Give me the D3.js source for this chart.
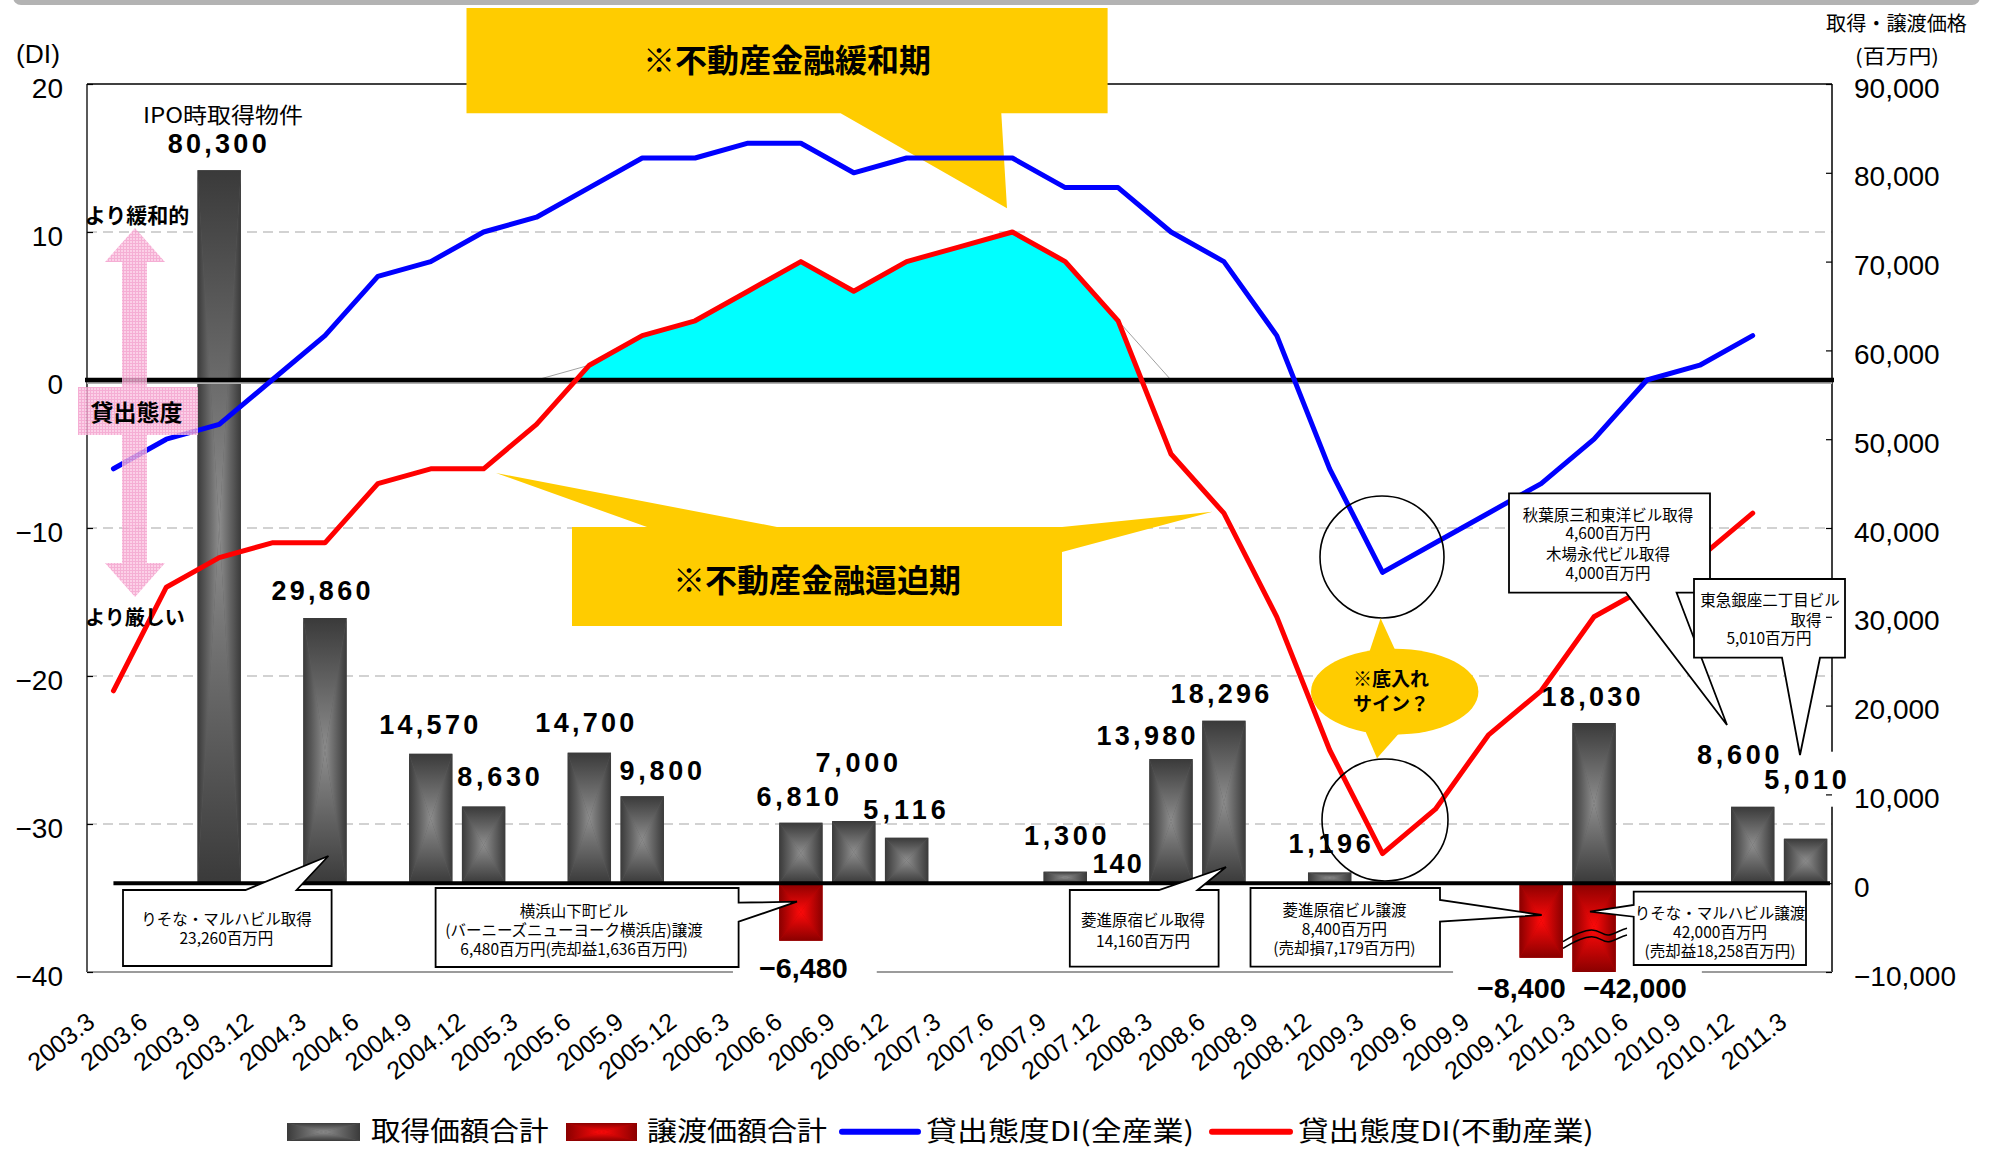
<!DOCTYPE html>
<html>
<head>
<meta charset="utf-8">
<script src="https://cdn.jsdelivr.net/npm/d3@7"></script>
<style>
  html, body { margin: 0; padding: 0; background: #fff; }
  svg { display: block; }
  text { font-family: "Liberation Sans", Arial, sans-serif; fill: #000; }
  .jp { font-family: "Noto Sans CJK JP", "Noto Sans", sans-serif; }
</style>
</head>
<body>
<svg id="chart" width="1991" height="1149"></svg>
<script>
// ---- data ----------------------------------------------------------------
const categories = [
  "2003.3","2003.6","2003.9","2003.12",
  "2004.3","2004.6","2004.9","2004.12",
  "2005.3","2005.6","2005.9","2005.12",
  "2006.3","2006.6","2006.9","2006.12",
  "2007.3","2007.6","2007.9","2007.12",
  "2008.3","2008.6","2008.9","2008.12",
  "2009.3","2009.6","2009.9","2009.12",
  "2010.3","2010.6","2010.9","2010.12",
  "2011.3"
];

// Lending attitude DI, all industries (2003.3 - 2010.12)
const diAllIndustry = [-6,-4,-3,0,3,7,8,10,11,13,15,15,16,16,14,15,15,15,13,13,10,8,3,-6,-13,-11,-9,-7,-4,0,1,3];
// Lending attitude DI, real estate (2003.3 - 2010.12)
const diRealEstate = [-21,-14,-12,-11,-11,-7,-6,-6,-3,1,3,4,6,8,6,8,9,10,8,4,-5,-9,-16,-25,-32,-29,-24,-21,-16,-14,-12,-9];

// Acquisition total per quarter (million yen)
const acquisitionTotal = [null,null,80300,null,29860,null,14570,8630,null,14700,9800,null,null,6810,7000,5116,
  null,null,1300,140,13980,18296,null,1196,null,null,null,null,18030,null,null,8600,5010];
// Disposition total per quarter (million yen)
const dispositionTotal = [null,null,null,null,null,null,null,null,null,null,null,null,null,-6480,null,null,
  null,null,null,null,null,null,null,null,null,null,null,-8400,-42000,null,null,null,null];

const diTicks = [-40,-30,-20,-10,0,10,20];
const amountTicks = [-10000,0,10000,20000,30000,40000,50000,60000,70000,80000,90000];
const legendLabels = ["取得価額合計","譲渡価額合計","貸出態度DI(全産業)","貸出態度DI(不動産業)"];

// ---- layout ---------------------------------------------------------------
const P = { left: 87, right: 1832, top: 84, bottom: 972 };

const svg = d3.select("#chart");
const defs = svg.append("defs");

const x = d3.scaleBand().domain(categories).range([P.left, P.right]).paddingInner(0).paddingOuter(0);
const cx = i => x(categories[i]) + x.bandwidth() / 2;
const yDI = d3.scaleLinear().domain([-40, 20]).range([P.bottom, P.top]);
const yAmt = d3.scaleLinear().domain([-10000, 90000]).range([P.bottom, P.top]);
const barW = x.bandwidth() * 0.82;
const fmt = d3.format(",");

// rectangular "from centre" gradients, one per triangle of a bar
const palettes = { gray: ["#3a3a3a", "#8d8d8d", "#5c5c5c"], red: ["#8a0000", "#ff0a0a", "#c00000"] };
Object.entries(palettes).forEach(([k, [dark, light]]) => {
  const specs = {
    top:    [0,0,0,1, dark, light],
    bottom: [0,0,0,1, light, dark],
    left:   [0,0,1,0, dark, light],
    right:  [0,0,1,0, light, dark]
  };
  Object.entries(specs).forEach(([side, [x1,y1,x2,y2,c0,c1]]) => {
    const g = defs.append("linearGradient").attr("id", `${k}-${side}`)
      .attr("x1", x1).attr("y1", y1).attr("x2", x2).attr("y2", y2);
    g.append("stop").attr("offset", 0).attr("stop-color", c0);
    g.append("stop").attr("offset", 1).attr("stop-color", c1);
  });
});

function gradientBox(g, x0, y0, w, h, kind) {
  const x1 = x0 + w, y1 = y0 + h, mx = x0 + w / 2, my = y0 + h / 2;
  g.append("rect").attr("x", x0).attr("y", y0).attr("width", w).attr("height", h)
    .attr("fill", palettes[kind][2]);
  if (h < 2) return;
  const tri = (pts, side) => g.append("path")
    .attr("d", "M" + pts.map(p => p.join(",")).join("L") + "Z")
    .attr("fill", `url(#${kind}-${side})`);
  tri([[x0,y0],[x1,y0],[mx,my]], "top");
  tri([[x0,y1],[x1,y1],[mx,my]], "bottom");
  tri([[x0,y0],[x0,y1],[mx,my]], "left");
  tri([[x1,y0],[x1,y1],[mx,my]], "right");
}

// pink hatched fill for the lending-attitude marker
const pat = defs.append("pattern").attr("id", "pinkHatch").attr("width", 3).attr("height", 3)
  .attr("patternUnits", "userSpaceOnUse");
pat.append("rect").attr("width", 3).attr("height", 3).attr("fill", "#fbc6e2");
pat.append("path").attr("d", "M0,0.5H3M0.5,0V3").attr("stroke", "#f39dcb").attr("stroke-width", 1);

// clip for the easing-period area (above DI = 0)
defs.append("clipPath").attr("id", "aboveZero").append("rect")
  .attr("x", P.left).attr("y", P.top).attr("width", P.right - P.left).attr("height", yDI(0) - P.top);

// multi-line centred text in a single element
function multiText(parent, lines, size, weight, dyBase) {
  const t = parent.append("text").attr("class", "jp").attr("text-anchor", "middle")
    .attr("font-size", size).attr("font-weight", weight || 400);
  lines.forEach(([s, lx, ly]) => t.append("tspan").attr("x", lx).attr("y", ly + dyBase).text(s));
  return t;
}

// ---- banner strip at the very top -----------------------------------------
svg.append("rect").attr("x", 13).attr("y", -20).attr("width", 1967).attr("height", 25)
  .attr("rx", 8).attr("fill", "#b3b3b3");

// ---- gridlines ------------------------------------------------------------
svg.append("g").selectAll("line")
  .data(diTicks.filter(v => v !== 0 && v !== 20 && v !== -40))
  .join("line")
  .attr("x1", P.left).attr("x2", P.right)
  .attr("y1", d => yDI(d)).attr("y2", d => yDI(d))
  .attr("stroke", "#c4c4c4").attr("stroke-width", 1.3).attr("stroke-dasharray", "10,6");

// ---- plot frame ------------------------------------------------------------
const frame = svg.append("g");
frame.append("line").attr("x1", P.left).attr("x2", P.right).attr("y1", P.top).attr("y2", P.top)
  .attr("stroke", "#000").attr("stroke-width", 1.5);
frame.append("line").attr("x1", P.left).attr("x2", P.left).attr("y1", P.top).attr("y2", P.bottom)
  .attr("stroke", "#000").attr("stroke-width", 1.3);
frame.append("line").attr("x1", P.right).attr("x2", P.right).attr("y1", P.top).attr("y2", P.bottom)
  .attr("stroke", "#000").attr("stroke-width", 1.5);
frame.append("line").attr("x1", P.left).attr("x2", P.right).attr("y1", P.bottom).attr("y2", P.bottom)
  .attr("stroke", "#7a7a7a").attr("stroke-width", 1.5);

// ---- easing-period area (real-estate DI above zero) -------------------------
const areaGen = d3.area().x((d, i) => cx(i)).y0(yDI(0)).y1(d => yDI(d));
svg.append("path").datum(diRealEstate).attr("d", areaGen)
  .attr("clip-path", "url(#aboveZero)").attr("fill", "#00ffff");
svg.append("path").datum(diRealEstate.map(v => Math.max(v, 0)))
  .attr("d", d3.line().x((d, i) => cx(i)).y(d => yDI(d)))
  .attr("fill", "none").attr("stroke", "#a0a0a0").attr("stroke-width", 1);

// ---- white backing behind some value labels --------------------------------
const acqLabelOffset = {2:[-2,-27],4:[-4,-28],6:[-2,-30],7:[15,-30],9:[-4.5,-30],10:[18.6,-26],
  13:[-3,-26.5],14:[3,-59],15:[-2,-28],18:[0,-36.5],19:[-1,-19],20:[-25,-24],21:[-4,-27.5],
  23:[0,-29.4],28:[-3,-27],31:[-14.5,-52.6],32:[0,-59.5]};
const dispLabelOffset = {13:[2.5,27.6],27:[-19.7,30],28:[41,16]};
const dispLabelPad = {13:[26,29],27:[24,10],28:[10,15]};
const acqCharW = 16.5, dispCharW = 14.8;

const bgLayer = svg.append("g");
dispositionTotal.forEach((v, i) => {
  if (v == null) return;
  const [dx, dy] = dispLabelOffset[i];
  const s = fmt(v), w = s.length * dispCharW;
  const lx = cx(i) + dx, ly = yAmt(Math.max(v, -10000)) + dy;
  const [pl, pr] = dispLabelPad[i];
  bgLayer.append("rect").attr("x", lx - w / 2 - pl).attr("y", ly - 20)
    .attr("width", w + pl + pr).attr("height", 40).attr("fill", "#fff");
});
{
  const i = 32, v = acquisitionTotal[i], [dx, dy] = acqLabelOffset[i];
  const w = fmt(v).length * acqCharW;
  const lx = cx(i) + dx, ly = yAmt(v) + dy;
  bgLayer.append("rect").attr("x", lx - w / 2 - 24).attr("y", ly - 27.5)
    .attr("width", w + 48).attr("height", 55).attr("fill", "#fff");
}

// ---- bars -------------------------------------------------------------------
const barLayer = svg.append("g");
acquisitionTotal.forEach((v, i) => {
  if (v == null) return;
  gradientBox(barLayer, cx(i) - barW / 2, yAmt(v), barW, yAmt(0) - yAmt(v), "gray");
});
dispositionTotal.forEach((v, i) => {
  if (v == null) return;
  const vv = Math.max(v, -10000);
  gradientBox(barLayer, cx(i) - barW / 2, yAmt(0), barW, yAmt(vv) - yAmt(0), "red");
});

// bar baseline and DI zero line
svg.append("line").attr("x1", cx(0)).attr("x2", P.right - 2).attr("y1", yAmt(0)).attr("y2", yAmt(0))
  .attr("stroke", "#000").attr("stroke-width", 4);
svg.append("line").attr("x1", P.left).attr("x2", P.right).attr("y1", yDI(0) + 3).attr("y2", yDI(0) + 3)
  .attr("stroke", "#b0b0b0").attr("stroke-width", 2);
svg.append("line").attr("x1", P.left - 2).attr("x2", P.right + 2).attr("y1", yDI(0)).attr("y2", yDI(0))
  .attr("stroke", "#000").attr("stroke-width", 4.5);

// ---- period callouts ----------------------------------------------------------
const yellow = "#ffcc00";
const calloutLayer = svg.append("g");
calloutLayer.append("path")
  .attr("d", "M466.5,8H1107.6V113.3H1001.3L1007,208.3L840.6,113.3H466.5Z")
  .attr("fill", yellow);
calloutLayer.append("text").attr("class", "jp").attr("x", 787).attr("y", 72)
  .attr("text-anchor", "middle").attr("font-size", 32).attr("font-weight", 700)
  .text("※不動産金融緩和期");

calloutLayer.append("path")
  .attr("d", "M572,527H647L496,473L777,527H1062V527L1212.5,511.7L1062,552V626H572Z")
  .attr("fill", yellow);
calloutLayer.append("text").attr("class", "jp").attr("x", 817).attr("y", 592)
  .attr("text-anchor", "middle").attr("font-size", 32).attr("font-weight", 700)
  .text("※不動産金融逼迫期");

// ---- DI lines ------------------------------------------------------------------
const lineGen = d3.line().x((d, i) => cx(i)).y(d => yDI(d));
svg.append("path").datum(diAllIndustry).attr("d", lineGen)
  .attr("fill", "none").attr("stroke", "#0000ff").attr("stroke-width", 5)
  .attr("stroke-linejoin", "round").attr("stroke-linecap", "round");
svg.append("path").datum(diRealEstate).attr("d", lineGen)
  .attr("fill", "none").attr("stroke", "#ff0000").attr("stroke-width", 5)
  .attr("stroke-linejoin", "round").attr("stroke-linecap", "round");

// ---- lending attitude marker (pink arrows) ------------------------------------
const pink = svg.append("g").attr("opacity", 0.82);
pink.append("path").attr("d", "M122,387V262H105L135,228L165,262H147V387Z").attr("fill", "url(#pinkHatch)");
pink.append("path").attr("d", "M122,435V563H105L135,597L165,563H147V435Z").attr("fill", "url(#pinkHatch)");
pink.append("rect").attr("x", 78).attr("y", 387).attr("width", 120).attr("height", 48).attr("fill", "url(#pinkHatch)");
svg.append("text").attr("class", "jp").attr("x", 136.5).attr("y", 421).attr("text-anchor", "middle")
  .attr("font-size", 23).attr("font-weight", 700).text("貸出態度");
svg.append("text").attr("class", "jp").attr("x", 137).attr("y", 223).attr("text-anchor", "middle")
  .attr("font-size", 21).attr("font-weight", 700).text("より緩和的");
svg.append("text").attr("class", "jp").attr("x", 135).attr("y", 625).attr("text-anchor", "middle")
  .attr("font-size", 20).attr("font-weight", 700).text("より厳しい");

// ---- bottoming-out markers ------------------------------------------------------
svg.append("ellipse").attr("cx", 1382).attr("cy", 557).attr("rx", 62).attr("ry", 61)
  .attr("fill", "none").attr("stroke", "#000").attr("stroke-width", 1.6);
svg.append("ellipse").attr("cx", 1385).attr("cy", 820).attr("rx", 63).attr("ry", 61)
  .attr("fill", "none").attr("stroke", "#000").attr("stroke-width", 1.6);
const sign = svg.append("g");
sign.append("ellipse").attr("cx", 1394.7).attr("cy", 691.7).attr("rx", 83.7).attr("ry", 43).attr("fill", yellow);
sign.append("path").attr("d", "M1368,656L1380.6,618.3L1397,654Z").attr("fill", yellow);
sign.append("path").attr("d", "M1364,728L1377,758.3L1402,730Z").attr("fill", yellow);
sign.append("text").attr("class", "jp").attr("x", 1391).attr("y", 686).attr("text-anchor", "middle")
  .attr("font-size", 19).attr("font-weight", 700).text("※底入れ");
sign.append("text").attr("class", "jp").attr("x", 1391).attr("y", 711).attr("text-anchor", "middle")
  .attr("font-size", 19).attr("font-weight", 700).text("サイン？");

// ---- transaction callout boxes ----------------------------------------------------
function boxCallout(b) {
  const { x0, y0, w, h, side, a, c, tip } = b;
  const x1 = x0 + w, y1 = y0 + h;
  let d;
  if (side === "top")
    d = `M${x0},${y0}H${a}L${tip[0]},${tip[1]}L${c},${y0}H${x1}V${y1}H${x0}Z`;
  else if (side === "bottom")
    d = `M${x0},${y0}H${x1}V${y1}H${c}L${tip[0]},${tip[1]}L${a},${y1}H${x0}Z`;
  else if (side === "right")
    d = `M${x0},${y0}H${x1}V${a}L${tip[0]},${tip[1]}L${x1},${c}V${y1}H${x0}Z`;
  else
    d = `M${x0},${y0}H${x1}V${y1}H${x0}V${c}L${tip[0]},${tip[1]}L${x0},${a}Z`;
  const g = svg.append("g");
  g.append("path").attr("d", d).attr("fill", "#fff").attr("stroke", "#000")
    .attr("stroke-width", 1.8).attr("stroke-linejoin", "miter");
  multiText(g, b.lines, 15.5, 400, 5.8);
}

boxCallout({ x0: 123, y0: 890, w: 208.6, h: 76, side: "top", a: 245.5, c: 296.6, tip: [328.4, 856],
  lines: [["りそな・マルハビル取得", 226.4, 919.3], ["23,260百万円", 226.4, 938.3]] });
boxCallout({ x0: 435.6, y0: 888, w: 303, h: 79, side: "right", a: 902.7, c: 921.7, tip: [797, 901.7],
  lines: [["横浜山下町ビル", 574, 910.7], ["(バーニーズニューヨーク横浜店)譲渡", 574, 930],
          ["6,480百万円(売却益1,636百万円)", 574, 949.3]] });
boxCallout({ x0: 1069.8, y0: 890, w: 148.8, h: 76.7, side: "top", a: 1159, c: 1197.5, tip: [1226, 867],
  lines: [["菱進原宿ビル取得", 1143, 920], ["14,160百万円", 1143, 940.7]] });
boxCallout({ x0: 1250.5, y0: 888, w: 189.5, h: 78.7, side: "right", a: 900, c: 921.7, tip: [1541.7, 915],
  lines: [["菱進原宿ビル譲渡", 1344.4, 910], ["8,400百万円", 1344.4, 929], ["(売却損7,179百万円)", 1344.4, 947.7]] });
boxCallout({ x0: 1633.7, y0: 891.7, w: 172.3, h: 73.3, side: "left", a: 905, c: 916.7, tip: [1590, 911.7],
  lines: [["りそな・マルハビル譲渡", 1720, 913.3], ["42,000百万円", 1720, 932], ["(売却益18,258百万円)", 1720, 950.7]] });
boxCallout({ x0: 1509, y0: 493.3, w: 201, h: 99.4, side: "bottom", a: 1626, c: 1676.6, tip: [1727, 725],
  lines: [["秋葉原三和東洋ビル取得", 1608, 515], ["4,600百万円", 1608, 533.3],
          ["木場永代ビル取得", 1608, 554], ["4,000百万円", 1608, 572.7]] });
boxCallout({ x0: 1694, y0: 579, w: 151, h: 78.7, side: "bottom", a: 1782, c: 1820, tip: [1800, 755],
  lines: [["東急銀座二丁目ビル", 1770, 600], ["取得", 1806, 620], ["5,010百万円", 1769, 638.3]] });

// ---- scale break on the clipped disposition bar ----------------------------------
const brk = svg.append("g").attr("fill", "none").attr("stroke", "#000").attr("stroke-width", 1.5);
brk.append("path").attr("d", "M1563,941.7C1572,936 1582,930 1591.7,930C1600,930 1603,936 1609,935C1615,934 1620,930 1627,928.3");
brk.append("path").attr("d", "M1563,948.4C1572,942.7 1582,936.7 1591.7,936.7C1600,936.7 1603,942.7 1609,941.7C1615,940.7 1620,936.7 1627,935");

// ---- value labels ----------------------------------------------------------------
const labelLayer = svg.append("g");
acquisitionTotal.forEach((v, i) => {
  if (v == null) return;
  const [dx, dy] = acqLabelOffset[i];
  const s = fmt(v);
  labelLayer.append("text")
    .attr("x", cx(i) + dx).attr("y", yAmt(v) + dy + 9.7)
    .attr("text-anchor", "middle").attr("font-size", 27).attr("font-weight", 700)
    .attr("textLength", s.length * acqCharW).attr("lengthAdjust", "spacing")
    .text(s);
});
dispositionTotal.forEach((v, i) => {
  if (v == null) return;
  const [dx, dy] = dispLabelOffset[i];
  const s = fmt(v);
  labelLayer.append("text")
    .attr("x", cx(i) + dx).attr("y", yAmt(Math.max(v, -10000)) + dy + 10)
    .attr("text-anchor", "middle").attr("font-size", 28).attr("font-weight", 700)
    .attr("textLength", s.length * dispCharW).attr("lengthAdjust", "spacingAndGlyphs")
    .text(s);
});
labelLayer.append("text").attr("class", "jp").attr("x", 223).attr("y", 123)
  .attr("text-anchor", "middle").attr("font-size", 22)
  .attr("textLength", 160).attr("lengthAdjust", "spacingAndGlyphs").text("IPO時取得物件");

// ---- axes ----------------------------------------------------------------------------
const axL = svg.append("g").attr("transform", `translate(${P.left},0)`)
  .call(d3.axisLeft(yDI).tickValues(diTicks).tickFormat(d3.format("d"))
    .tickSizeInner(-6).tickSizeOuter(0).tickPadding(24));
axL.select(".domain").remove();
axL.selectAll("line").attr("stroke", "#000").attr("stroke-width", 1.2);
axL.selectAll("text").attr("font-size", 28).attr("dy", "0.47em")
  .attr("font-family", "'Liberation Sans', Arial, sans-serif");

const axR = svg.append("g").attr("transform", `translate(${P.right},0)`)
  .call(d3.axisRight(yAmt).tickValues(amountTicks).tickFormat(fmt)
    .tickSizeInner(-6).tickSizeOuter(0).tickPadding(22));
axR.select(".domain").remove();
axR.selectAll("line").attr("stroke", "#000").attr("stroke-width", 1.2);
axR.selectAll("text").attr("font-size", 28).attr("dy", "0.47em")
  .attr("font-family", "'Liberation Sans', Arial, sans-serif");

const axB = svg.append("g").attr("transform", "translate(0,1025)")
  .call(d3.axisBottom(x).tickSize(0).tickPadding(0));
axB.select(".domain").remove();
axB.selectAll("text")
  .attr("y", 0).attr("dy", 0)
  .attr("text-anchor", "end")
  .attr("transform", "translate(-17,0) rotate(-38)")
  .attr("font-size", 25)
  .attr("font-family", "'Liberation Sans', Arial, sans-serif");

// axis titles
svg.append("text").attr("x", 38).attr("y", 63).attr("text-anchor", "middle").attr("font-size", 25)
  .attr("textLength", 44).attr("lengthAdjust", "spacingAndGlyphs").text("(DI)");
svg.append("text").attr("class", "jp").attr("x", 1896.5).attr("y", 31).attr("text-anchor", "middle")
  .attr("font-size", 20).attr("textLength", 141).attr("lengthAdjust", "spacingAndGlyphs").text("取得・譲渡価格");
svg.append("text").attr("class", "jp").attr("x", 1897).attr("y", 64).attr("text-anchor", "middle")
  .attr("font-size", 20).attr("textLength", 84).attr("lengthAdjust", "spacingAndGlyphs").text("(百万円)");

// ---- legend -------------------------------------------------------------------------
const lg = svg.append("g");
gradientBox(lg, 287, 1123, 73, 18, "gray");
gradientBox(lg, 566, 1123, 71, 18, "red");
lg.append("line").attr("x1", 842).attr("x2", 918).attr("y1", 1131.7).attr("y2", 1131.7)
  .attr("stroke", "#0000ff").attr("stroke-width", 6).attr("stroke-linecap", "round");
lg.append("line").attr("x1", 1212).attr("x2", 1290).attr("y1", 1131.7).attr("y2", 1131.7)
  .attr("stroke", "#ff0000").attr("stroke-width", 6).attr("stroke-linecap", "round");
const legendText = [[371, 177.5], [647, 180], [926, 268], [1298, 295.7]];
legendLabels.forEach((t, k) => {
  lg.append("text").attr("class", "jp").attr("x", legendText[k][0]).attr("y", 1141)
    .attr("font-size", 27).attr("textLength", legendText[k][1]).attr("lengthAdjust", "spacingAndGlyphs")
    .text(t);
});
</script>
</body>
</html>
